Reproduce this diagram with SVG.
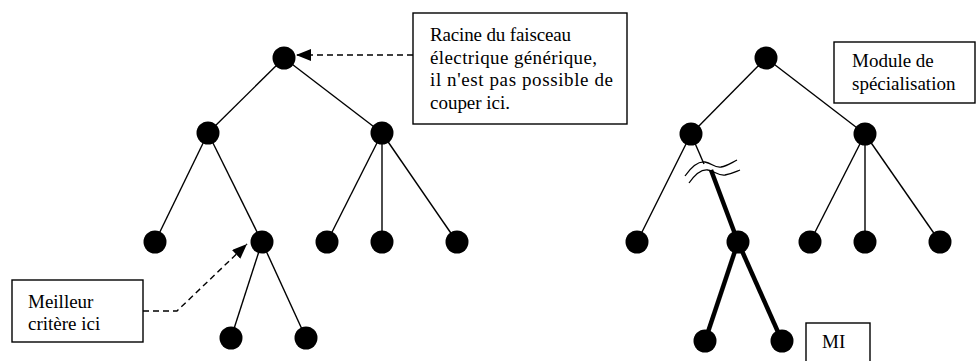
<svg xmlns="http://www.w3.org/2000/svg" width="976" height="361" viewBox="0 0 976 361">
<style>
.edge{stroke:#000;stroke-width:1.4;fill:none}
.thick{stroke:#000;stroke-width:4.5;fill:none}
.dash{stroke:#000;stroke-width:1.4;fill:none;stroke-dasharray:6 4}
.wave{stroke:#000;stroke-width:1.3;fill:none}
.box{fill:#fff;stroke:#000;stroke-width:1.4}
.node{fill:#000}
text{font-family:"Liberation Serif","Times New Roman",serif;font-size:19px;fill:#000}
</style>
<defs>
<marker id="ah" markerWidth="16" markerHeight="12" refX="15" refY="6" orient="auto" markerUnits="userSpaceOnUse">
<path d="M0,0 L15,6 L0,12 Z" fill="#000"/>
</marker>
</defs>
<rect width="976" height="361" fill="#fff"/>
<g id="connectors">
<line class="edge" x1="284" y1="58" x2="208" y2="133"/>
<line class="edge" x1="284" y1="58" x2="382" y2="133"/>
<line class="edge" x1="208" y1="133" x2="155" y2="242"/>
<line class="edge" x1="208" y1="133" x2="262" y2="242"/>
<line class="edge" x1="382" y1="133" x2="327" y2="242"/>
<line class="edge" x1="382" y1="133" x2="382" y2="242"/>
<line class="edge" x1="382" y1="133" x2="457" y2="242"/>
<line class="edge" x1="262" y1="242" x2="231" y2="338"/>
<line class="edge" x1="262" y1="242" x2="306" y2="338"/>
<line class="edge" x1="766" y1="58" x2="691" y2="134"/>
<line class="edge" x1="766" y1="58" x2="865" y2="134"/>
<line class="edge" x1="691" y1="134" x2="637" y2="242"/>
<line class="edge" x1="691" y1="134" x2="704" y2="164"/>
<line class="thick" x1="711" y1="170" x2="738" y2="242"/>
<line class="thick" x1="738" y1="242" x2="705" y2="341"/>
<line class="thick" x1="738" y1="242" x2="782" y2="341"/>
<line class="edge" x1="865" y1="134" x2="810" y2="242"/>
<line class="edge" x1="865" y1="134" x2="865" y2="242"/>
<line class="edge" x1="865" y1="134" x2="940" y2="242"/>
<path class="wave" d="M685,176 C692,166 698,161 705,162 C712,163 714,168 721,167 C727,166 731,163 737,160"/>
<path class="wave" d="M689,183 C696,173 702,169 708,170 C715,171 718,176 725,175 C731,174 735,172 740,170"/>
<line class="dash" x1="413" y1="55" x2="296" y2="55" marker-end="url(#ah)"/>
<polyline class="dash" points="143,311 177,311 247,244" marker-end="url(#ah)"/>
</g>
<g id="n-root-l"><circle class="node" cx="284" cy="58" r="11.5"/></g>
<g id="n-l-a"><circle class="node" cx="208" cy="133" r="11.5"/></g>
<g id="n-l-b"><circle class="node" cx="382" cy="133" r="11.5"/></g>
<g id="n-l-a1"><circle class="node" cx="155" cy="242" r="11.5"/></g>
<g id="n-l-a2"><circle class="node" cx="262" cy="242" r="11.5"/></g>
<g id="n-l-b1"><circle class="node" cx="327" cy="242" r="11.5"/></g>
<g id="n-l-b2"><circle class="node" cx="382" cy="242" r="11.5"/></g>
<g id="n-l-b3"><circle class="node" cx="457" cy="242" r="11.5"/></g>
<g id="n-l-a21"><circle class="node" cx="231" cy="338" r="11.5"/></g>
<g id="n-l-a22"><circle class="node" cx="306" cy="338" r="11.5"/></g>
<g id="n-root-r"><circle class="node" cx="766" cy="58" r="11.5"/></g>
<g id="n-r-a"><circle class="node" cx="691" cy="134" r="11.5"/></g>
<g id="n-r-b"><circle class="node" cx="865" cy="134" r="11.5"/></g>
<g id="n-r-a1"><circle class="node" cx="637" cy="242" r="11.5"/></g>
<g id="n-r-a2"><circle class="node" cx="738" cy="242" r="11.5"/></g>
<g id="n-r-b1"><circle class="node" cx="810" cy="242" r="11.5"/></g>
<g id="n-r-b2"><circle class="node" cx="865" cy="242" r="11.5"/></g>
<g id="n-r-b3"><circle class="node" cx="940" cy="242" r="11.5"/></g>
<g id="n-r-a21"><circle class="node" cx="705" cy="341" r="11.5"/></g>
<g id="n-r-a22"><circle class="node" cx="782" cy="341" r="11.5"/></g>
<g id="note-racine">
<rect class="box" x="413" y="13" width="214" height="111"/>
<text x="430" y="41" textLength="141" lengthAdjust="spacing">Racine du faisceau</text>
<text x="430" y="63.5" textLength="167" lengthAdjust="spacing">électrique générique,</text>
<text x="430" y="86" textLength="183" lengthAdjust="spacing">il n'est pas possible de</text>
<text x="430" y="108.5" textLength="80" lengthAdjust="spacing">couper ici.</text>
</g>
<g id="note-meilleur">
<rect class="box" x="12" y="280" width="131" height="62"/>
<text x="28" y="307.5">Meilleur</text>
<text x="28" y="330">critère ici</text>
</g>
<g id="note-module">
<rect class="box" x="834" y="42" width="141" height="61"/>
<text x="852" y="67">Module de</text>
<text x="852" y="90">spécialisation</text>
</g>
<g id="note-mi">
<rect class="box" x="806" y="323" width="64" height="45"/>
<text x="822" y="348">MI</text>
</g>
</svg>
